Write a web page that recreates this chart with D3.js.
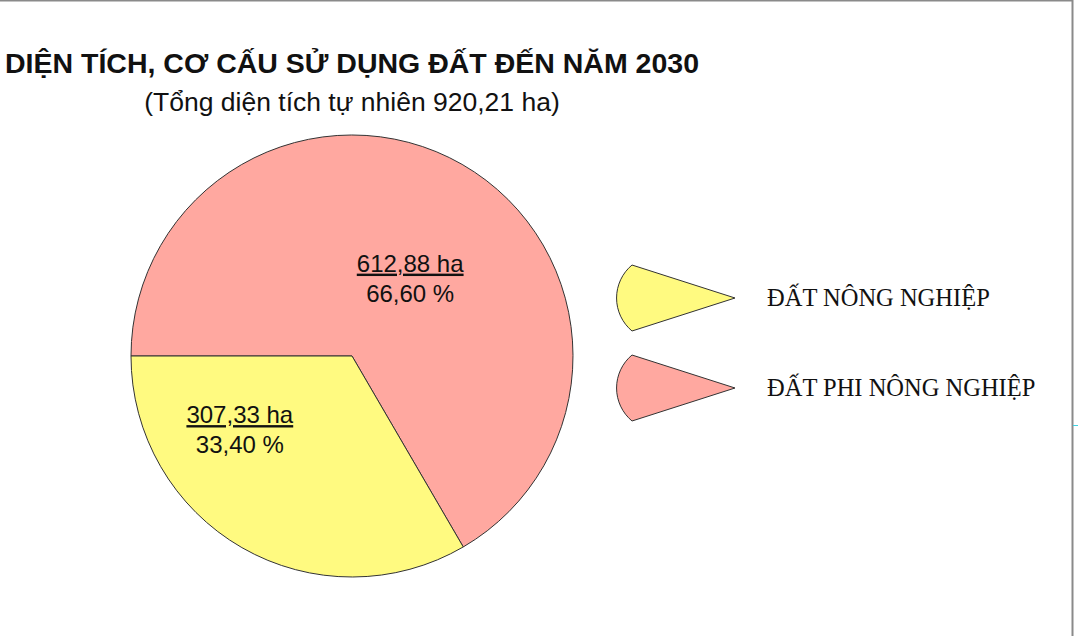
<!DOCTYPE html>
<html>
<head>
<meta charset="utf-8">
<script src="https://cdn.jsdelivr.net/npm/d3@7"></script>
<style>
  body { margin: 0; background: #fff; }
  svg { display: block; }
</style>
</head>
<body>
<div id="chart-area"></div>
<script>
// Data
const categories = ['ĐẤT PHI NÔNG NGHIỆP', 'ĐẤT NÔNG NGHIỆP']
const areas = [612.88, 307.33]
const percents = ['66,60 %', '33,40 %']
const areaLabels = ['612,88 ha', '307,33 ha']
const legendOrder = ['ĐẤT NÔNG NGHIỆP', 'ĐẤT PHI NÔNG NGHIỆP']
const title = 'DIỆN TÍCH, CƠ CẤU SỬ DỤNG ĐẤT ĐẾN NĂM 2030'
const subtitle = '(Tổng diện tích tự nhiên 920,21 ha)'

const WIDTH = 1078
const HEIGHT = 636
const CX = 352
const CY = 356
const R = 221

const color = d3.scaleOrdinal()
  .domain(categories)
  .range(['#FFA8A0', '#FFFA80'])

const svg = d3.select('#chart-area').append('svg')
  .attr('width', WIDTH)
  .attr('height', HEIGHT)

// frame (only top and right edges visible)
svg.append('line')
  .attr('x1', 0).attr('x2', 1073)
  .attr('y1', 0.5).attr('y2', 0.5)
  .attr('stroke', '#8a8a8a').attr('stroke-width', 2)
svg.append('line')
  .attr('x1', 1072.5).attr('x2', 1072.5)
  .attr('y1', 0).attr('y2', HEIGHT)
  .attr('stroke', '#8a8a8a').attr('stroke-width', 2)
svg.append('line')
  .attr('x1', 1073).attr('x2', WIDTH)
  .attr('y1', 425.5).attr('y2', 425.5)
  .attr('stroke', '#3fd0e0').attr('stroke-width', 1)

// titles
svg.append('text')
  .attr('x', CX)
  .attr('y', 73)
  .attr('text-anchor', 'middle')
  .attr('font-family', 'Liberation Sans, Arial, sans-serif')
  .attr('font-weight', 'bold')
  .attr('font-size', '28.5px')
  .attr('fill', '#111')
  .text(title)

svg.append('text')
  .attr('x', CX)
  .attr('y', 111)
  .attr('text-anchor', 'middle')
  .attr('font-family', 'Liberation Sans, Arial, sans-serif')
  .attr('font-size', '26.5px')
  .attr('fill', '#111')
  .text(subtitle)

// pie
const pie = d3.pie()
  .sort(null)
  .startAngle(-Math.PI / 2)
  .endAngle(3 * Math.PI / 2)
  .value(d => d.value)

const data = categories.map((c, i) => ({
  name: c, value: areas[i], pct: percents[i], area: areaLabels[i]
}))

const arc = d3.arc().innerRadius(0).outerRadius(R)

const g = svg.append('g')
  .attr('transform', `translate(${CX}, ${CY})`)

const arcs = pie(data)

g.selectAll('path')
  .data(arcs)
  .enter().append('path')
  .attr('d', arc)
  .attr('fill', d => color(d.data.name))
  .attr('stroke', '#333')
  .attr('stroke-width', 1)
  .attr('stroke-linejoin', 'round')

// labels: placed in polar terms relative to the centre
const labelPolar = [{ a: 37.3, r: 96 }, { a: 236.2, r: 135 }]

const labels = g.selectAll('g.label')
  .data(arcs)
  .enter().append('g')
  .attr('class', 'label')
  .attr('transform', (d, i) => {
    const t = labelPolar[i].a * Math.PI / 180
    return `translate(${labelPolar[i].r * Math.sin(t)}, ${-labelPolar[i].r * Math.cos(t)})`
  })
  .attr('font-family', 'Liberation Sans, Arial, sans-serif')
  .attr('font-size', '24px')
  .attr('fill', '#111')
  .attr('text-anchor', 'middle')

labels.append('text')
  .attr('y', -8)
  .attr('text-decoration', 'underline')
  .text(d => d.data.area)

labels.append('text')
  .attr('y', 22)
  .text(d => d.data.pct)

// legend
const legend = svg.append('g')
  .attr('transform', 'translate(735, 298)')

const legendItem = legend.selectAll('g')
  .data(legendOrder)
  .enter().append('g')
  .attr('transform', (d, i) => `translate(0, ${i * 90})`)

legendItem.append('path')
  .attr('d', 'M0,0 L-103,-33 A43,43 0 0,0 -103,33 Z')
  .attr('fill', d => color(d))
  .attr('stroke', '#333')
  .attr('stroke-width', 1)
  .attr('stroke-linejoin', 'round')

legendItem.append('text')
  .attr('x', 32)
  .attr('y', 8)
  .attr('font-family', 'Liberation Serif, Times New Roman, serif')
  .attr('font-size', '24.5px')
  .attr('fill', '#111')
  .text(d => d)
</script>
</body>
</html>
